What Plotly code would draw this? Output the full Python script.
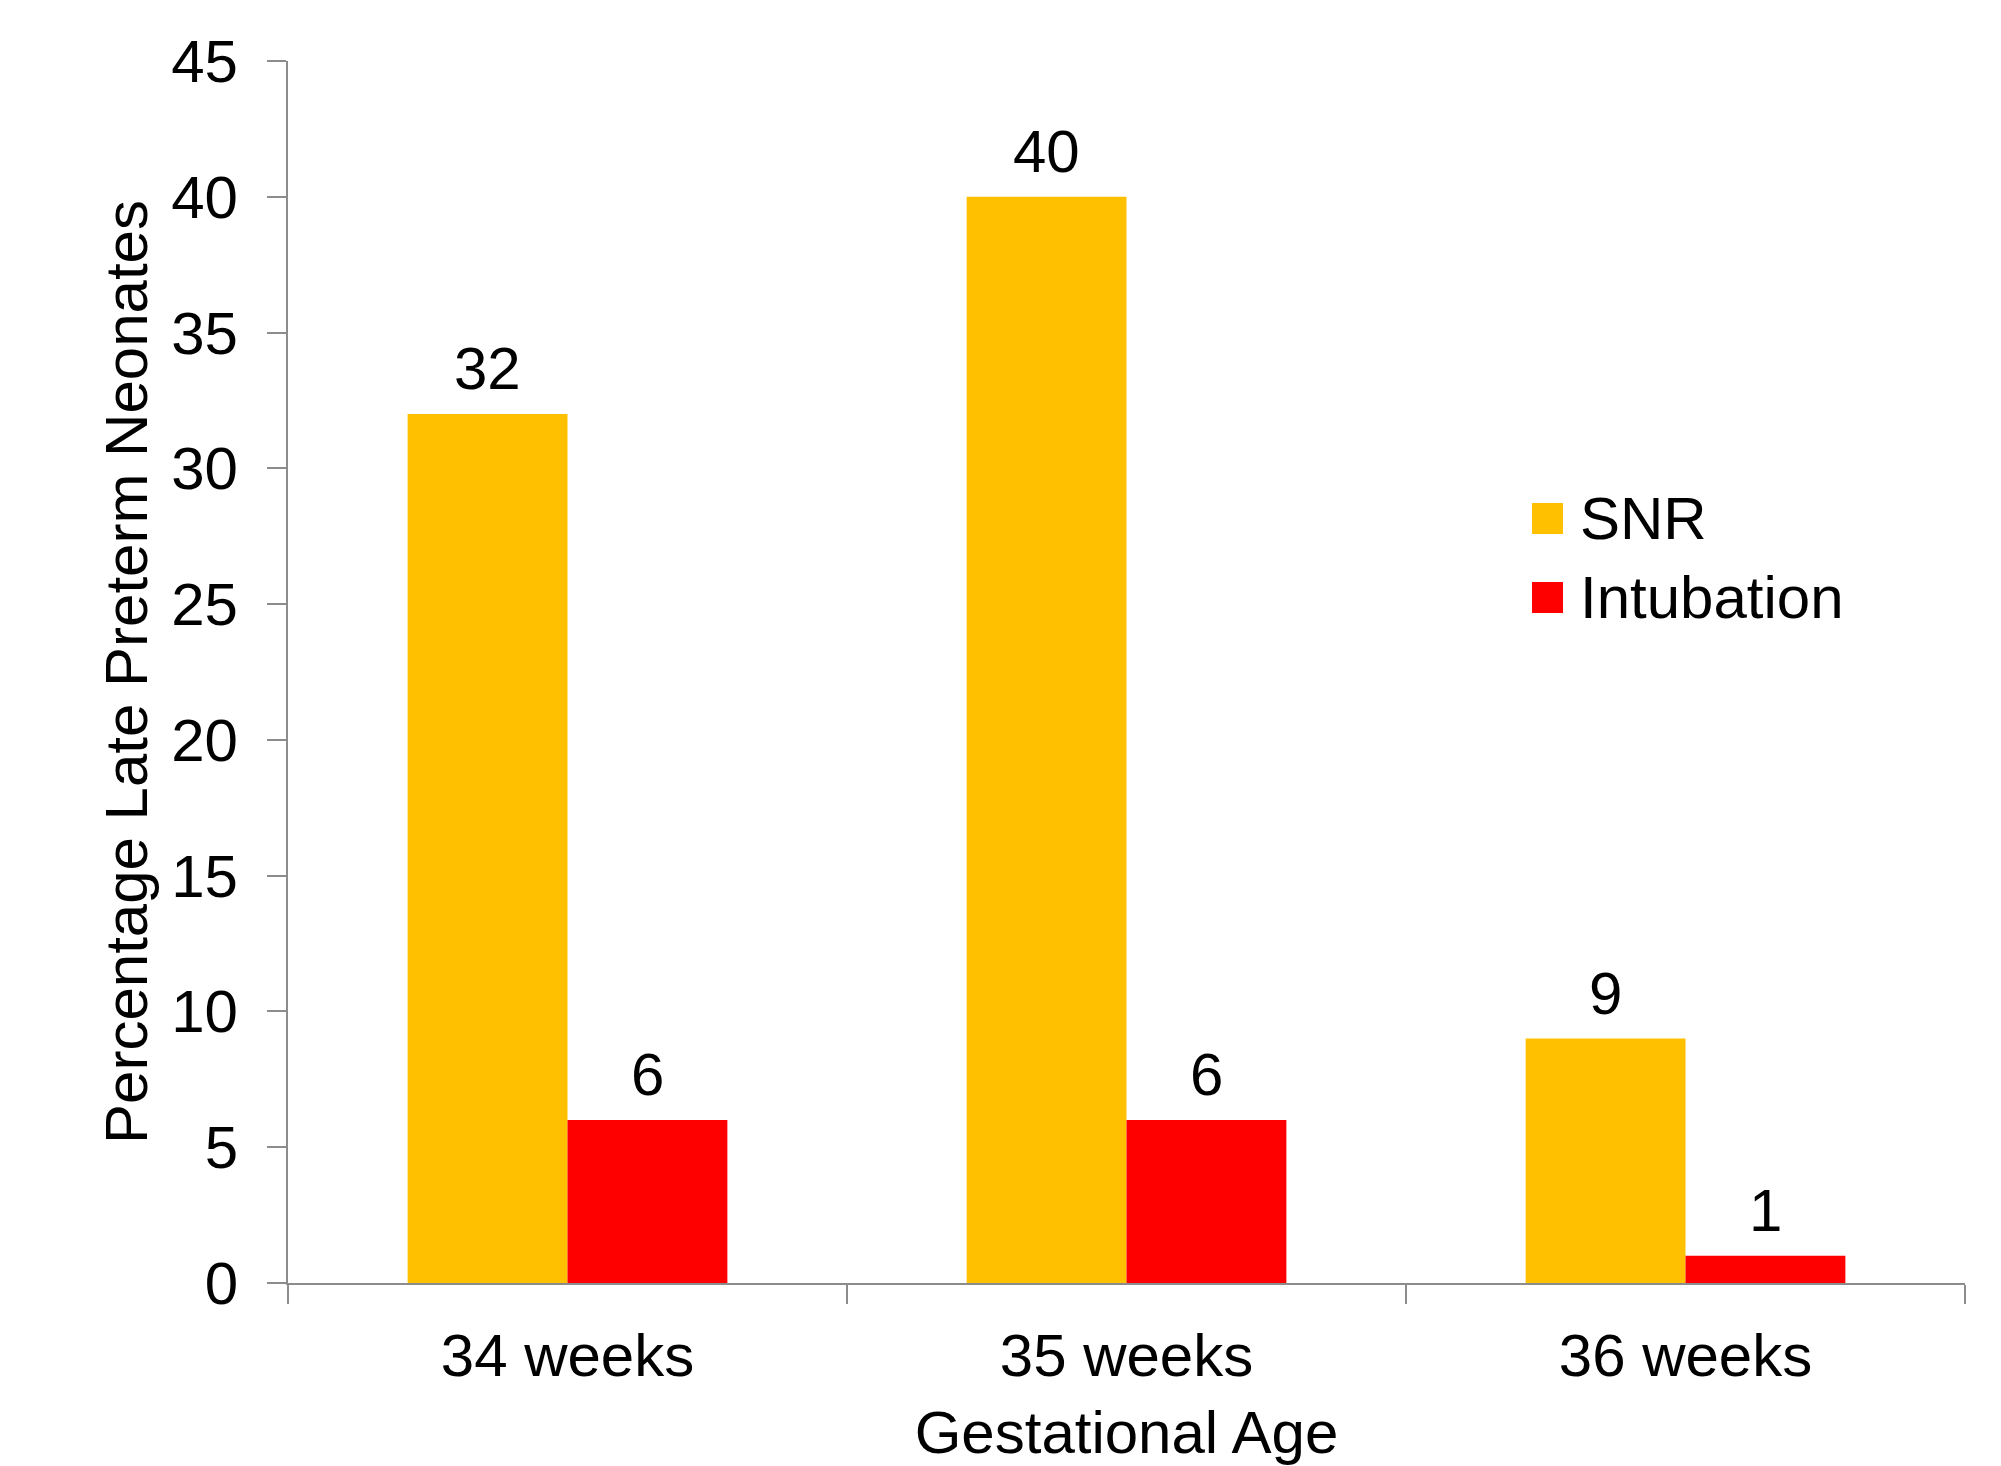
import plotly.graph_objects as go

categories = ["34 weeks", "35 weeks", "36 weeks"]
snr = [32, 40, 9]
intubation = [6, 6, 1]
series_names = ["SNR", "Intubation"]
colors = ["#FFC000", "#FF0000"]
y_ticks = [0, 5, 10, 15, 20, 25, 30, 35, 40, 45]

FONT = "Liberation Sans, Arial, sans-serif"
FS = 60

fig = go.Figure()
for name, vals, col in zip(series_names, [snr, intubation], colors):
    fig.add_trace(go.Bar(x=categories, y=vals, name=name, marker=dict(color=col, line=dict(width=0)),
                         showlegend=False))

# value labels
bar_px = 160
for vals, sign in [(snr, -1), (intubation, 1)]:
    for c, v in zip(categories, vals):
        fig.add_annotation(x=c, y=v, text=str(v), showarrow=False, xref="x", yref="y",
                           xshift=sign * bar_px / 2, yanchor="bottom", yshift=10,
                           font=dict(family=FONT, size=FS, color="black"))

# manual legend (large square markers)
leg_x0, leg_y0 = 1532, 503
sq = 31
spacing = 79
W, H = 2001, 1466
ml, mr, mt, mb = 288, 36, 61, 183
pw, ph = W - ml - mr, H - mt - mb
for i, (name, col) in enumerate(zip(series_names, colors)):
    top = leg_y0 + i * spacing
    x0 = (leg_x0 - ml) / pw
    x1 = (leg_x0 + sq - ml) / pw
    y1 = 1 - (top - mt) / ph
    y0 = 1 - (top + sq - mt) / ph
    fig.add_shape(type="rect", xref="paper", yref="paper", x0=x0, x1=x1, y0=y0, y1=y1,
                  fillcolor=col, line=dict(width=0))
    fig.add_annotation(xref="paper", yref="paper", x=(1578 - ml) / pw, y=(y0 + y1) / 2,
                       xanchor="left", yanchor="middle", text=name, showarrow=False,
                       font=dict(family=FONT, size=FS, color="black"))

axis_col = "#8C8C8C"
fig.update_layout(
    width=W, height=H,
    margin=dict(l=ml, r=mr, t=mt, b=mb, autoexpand=False),
    plot_bgcolor="white", paper_bgcolor="white",
    barmode="group", bargap=0.428, bargroupgap=0,
    font=dict(family=FONT, size=FS, color="black"),
    xaxis=dict(
        showline=True, linecolor=axis_col, linewidth=2,
        ticks="outside", tickson="boundaries", ticklen=19, tickcolor=axis_col, tickwidth=2,
        showgrid=False, zeroline=False,
        tickfont=dict(family=FONT, size=FS, color="black"),
        ticklabelstandoff=19,
        title=dict(text="Gestational Age", font=dict(family=FONT, size=FS, color="black"), standoff=23),
        automargin=False,
    ),
    yaxis=dict(
        range=[0, 45], tickvals=y_ticks,
        showline=True, linecolor=axis_col, linewidth=2,
        ticks="outside", ticklen=19, tickcolor=axis_col, tickwidth=2,
        showgrid=False, zeroline=False,
        tickfont=dict(family=FONT, size=FS, color="black"),
        ticklabelstandoff=17,
        title=dict(text="Percentage Late Preterm Neonates", font=dict(family=FONT, size=FS, color="black"),
                   standoff=4),
        automargin=False,
    ),
)

fig.write_html("out.html")
